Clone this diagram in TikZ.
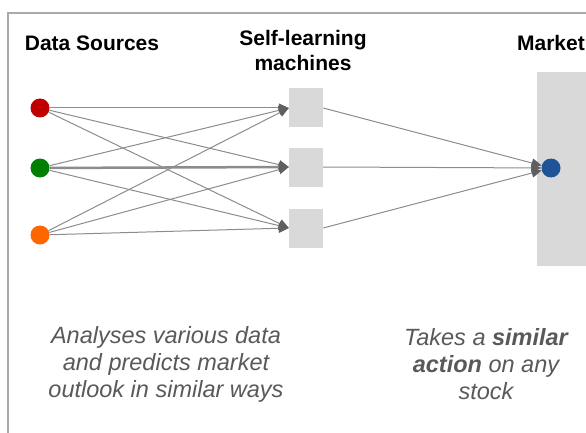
\documentclass[tikz,border=0pt]{standalone}
\usepackage{fontspec}
\setmainfont{Liberation Sans}
\usetikzlibrary{arrows.meta,positioning}
\definecolor{srcred}{RGB}{192,0,0}
\definecolor{srcgreen}{RGB}{0,128,0}
\definecolor{srcorange}{RGB}{255,102,0}
\definecolor{mktblue}{RGB}{31,84,153}
\definecolor{panelgray}{RGB}{217,217,217}
\definecolor{framegray}{RGB}{170,170,170}
\definecolor{linkgray}{RGB}{140,140,140}
\definecolor{tipgray}{RGB}{95,95,95}
\definecolor{notegray}{RGB}{89,89,89}
\tikzset{
  srcdot/.style={circle, minimum size=19pt, inner sep=0pt, fill=#1},
  machbox/.style={rectangle, minimum width=34pt, minimum height=39pt,
                  inner sep=0pt, fill=panelgray},
  link/.style={-{Triangle[length=10pt,width=9pt,color=tipgray]},
               draw=linkgray, line width=1pt},
  heading/.style={font=\fontsize{21}{25}\selectfont\bfseries, align=center},
  note/.style={font=\fontsize{23.5}{27}\selectfont\itshape,
               text=notegray, align=center},
}
\begin{document}
\begin{tikzpicture}[x=1pt,y=-1pt]
  \useasboundingbox (0,0) rectangle (586,433);
  \clip (0,0) rectangle (586,433);

  % frame, open at right and bottom
  \draw[framegray, line width=2pt] (8,440) -- (8,13) -- (600,13);

  % headings
  \node[heading] (hsrc) at (92,43) {Data Sources};
  \node[heading] (hmach) at (303,50) {Self-learning\\machines};
  \node[heading, anchor=east, inner xsep=0pt] (hmkt) at (585,43) {Market};

  % market panel and dot
  \node[fill=panelgray, minimum width=60pt, minimum height=194pt,
        inner sep=0pt, anchor=north west] (panel) at (537,72) {};
  \node[srcdot=mktblue] (mkt) at (551,168) {};

  % sources and machines
  \foreach \i/\y/\c in {1/108/srcred, 2/168/srcgreen, 3/235/srcorange}
    \node[srcdot=\c] (src\i) at (40,\y) {};
  \foreach \i/\y in {1/108, 2/167, 3/228}
    \node[machbox] (mach\i) at (306,\y) {};

  % every source feeds every machine
  \foreach \s in {1,2,3}
    \foreach \m in {1,2,3}
      \draw[link] (src\s) -- (mach\m.west);
  \draw[link, line width=2.5pt] (src2) -- (mach2.west);
  \foreach \m in {1,2,3}
    \draw[link] (mach\m.east) -- (mkt);

  % notes
  \node[note] (notemach) at (166,364)
    {Analyses various data\\and predicts market\\outlook in similar ways};
  \node[note] (notemkt) at (486,364)
    {Takes a \textbf{similar}\\\textbf{action} on any\\stock};
\end{tikzpicture}
\end{document}
